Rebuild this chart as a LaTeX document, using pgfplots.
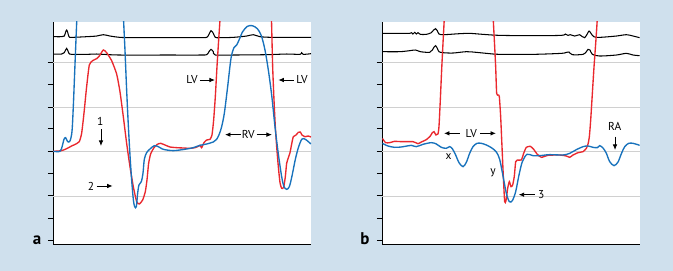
\documentclass[border=0pt]{standalone}
\usepackage{pgfplots}
\pgfplotsset{compat=1.18}
\usepackage{fontspec}
\setmainfont{PT Sans}
\usetikzlibrary{arrows.meta}
\definecolor{bgblue}{RGB}{207,224,237}
\definecolor{cred}{RGB}{234,40,46}
\definecolor{cblue}{RGB}{24,114,188}
\definecolor{gridgray}{RGB}{208,208,208}
\pgfplotsset{
 panel/.style={
  scale only axis, height=222.6bp,
  axis x line*=bottom, axis y line*=left,
  axis line style={-, line width=1bp, black},
  ymin=-733, ymax=-65,
  ytick={-721,-655,-588,-521,-454,-387,-321,-254,-187}, yticklabels={},
  extra y ticks={-588,-454,-321,-187}, extra y tick labels={},
  extra y tick style={grid=major},
  major grid style={gridgray, line width=0.9bp},
  tick align=outside, major tick length=5.5bp,
  tick style={black, line width=1bp},
  xtick=\empty,
  axis background/.style={fill=white},
 },
 ekg/.style={black, line width=1.05bp, smooth, tension=0.5, no markers},
 rc/.style={cred, line width=1.35bp, smooth, tension=0.35, no markers},
 bc/.style={cblue, line width=1.35bp, smooth, tension=0.5, no markers},
}
\tikzset{ann/.style={font=\fontsize{11.5}{13}\selectfont, inner sep=0pt},
 arr/.style={-{Latex[length=5.5bp,width=4.6bp]}, line width=0.9bp, black}}
\begin{document}
\begin{tikzpicture}
\fill[bgblue] (0,0) rectangle (673bp,271bp);
% ---------------- panel a
\begin{axis}[panel, at={(53.3bp,26.7bp)}, anchor=south west, width=257.7bp, xmin=160, xmax=933]
\addplot[ekg] coordinates {(160,-110)(185,-110)(193,-108)(197,-96)(200,-90)(203,-96)(207,-110)(215,-112)(260,-110)(290,-108)(310,-104)(330,-108)(360,-112)(400,-113)(500,-113)(600,-113)(620,-112)(627,-103)(633,-92)(640,-100)(646,-112)(660,-113)(700,-112)(740,-108)(760,-104)(780,-110)(820,-112)(933,-112)};
\addplot[ekg] coordinates {(160,-162)(185,-162)(193,-158)(197,-150)(200,-145)(203,-150)(207,-160)(215,-163)(260,-163)(290,-162)(310,-163)(360,-165)(500,-165)(600,-165)(620,-164)(627,-155)(633,-148)(640,-155)(646,-165)(700,-165)(800,-164)(860,-162)(900,-163)(905,-158)(910,-163)(933,-161)};
\addplot[rc] coordinates {(160,-454)(185,-452)(200,-446)(215,-438)(230,-431)(238,-425)(245,-400)(252,-340)(260,-260)(268,-195)(278,-182)(290,-176)(298,-168)(310,-150)(320,-158)(335,-182)(350,-222)(360,-275)(370,-350)(380,-430)(390,-500)(400,-560)(410,-605)(418,-612)(428,-600)(436,-575)(441,-540)(446,-490)(452,-462)(462,-443)(472,-433)(482,-430)(495,-435)(510,-441)(530,-443)(550,-444)(570,-445)(585,-443)(595,-439)(600,-436)(605,-443)(612,-428)(620,-420)(630,-418)(636,-405)(641,-360)(646,-290)(651,-200)(656,-120)(661,-40)(665,100)(810,100)(814,-40)(818,-200)(822,-300)(826,-380)(830,-440)(835,-500)(840,-548)(845,-565)(851,-562)(856,-530)(860,-490)(865,-473)(870,-458)(875,-432)(880,-410)(888,-405)(895,-397)(901,-396)(906,-405)(915,-410)(925,-408)(933,-411)};
\addplot[bc] coordinates {(160,-454)(180,-454)(187,-438)(192,-418)(197,-413)(203,-425)(210,-423)(216,-395)(220,-320)(224,-220)(228,-120)(232,-20)(236,100)(366,100)(370,-40)(375,-150)(380,-270)(385,-375)(390,-465)(395,-540)(400,-598)(404,-620)(409,-620)(413,-580)(417,-555)(424,-545)(429,-520)(433,-478)(440,-458)(450,-447)(463,-437)(475,-440)(487,-447)(500,-450)(520,-452)(540,-450)(560,-447)(580,-443)(600,-436)(620,-432)(640,-426)(650,-418)(658,-402)(665,-380)(673,-340)(683,-260)(693,-175)(702,-143)(710,-135)(718,-118)(728,-95)(742,-79)(757,-77)(772,-86)(784,-107)(795,-150)(805,-210)(815,-285)(825,-380)(835,-462)(845,-530)(852,-560)(860,-568)(868,-560)(876,-528)(886,-478)(896,-440)(906,-417)(916,-418)(925,-425)(933,-432)};
\node[ann] at (axis cs:576,-240) {LV};
\draw[arr] (axis cs:600,-240) -- (axis cs:645,-240);
\node[ann] at (axis cs:906,-240) {LV};
\draw[arr] (axis cs:881,-240) -- (axis cs:835,-240);
\node[ann] at (axis cs:745,-404) {RV};
\draw[arr] (axis cs:722,-404) -- (axis cs:675,-404);
\draw[arr] (axis cs:770,-404) -- (axis cs:816,-404);
\node[ann] at (axis cs:301,-363) {1};
\draw[arr] (axis cs:303,-388) -- (axis cs:303,-438);
\node[ann] at (axis cs:273,-558) {2};
\draw[arr] (axis cs:290,-558) -- (axis cs:338,-558);
\end{axis}
% ---------------- panel b
\begin{axis}[panel, at={(382.3bp,26.7bp)}, anchor=south west, width=257.4bp, xmin=148, xmax=920]
\addplot[ekg] coordinates {(148,-100)(200,-100)(230,-100)(236,-98)(240,-102)(245,-97)(250,-102)(255,-98)(262,-103)(280,-103)(295,-98)(302,-90)(308,-86)(313,-92)(318,-102)(330,-104)(350,-103)(380,-101)(410,-100)(450,-103)(500,-106)(600,-107)(685,-106)(697,-102)(705,-106)(712,-104)(725,-108)(740,-104)(748,-110)(755,-113)(762,-103)(768,-93)(774,-100)(782,-110)(800,-112)(850,-108)(880,-104)(900,-108)(920,-113)};
\addplot[ekg] coordinates {(148,-155)(200,-155)(230,-152)(248,-150)(262,-155)(290,-157)(298,-150)(304,-140)(308,-137)(313,-145)(318,-155)(330,-158)(360,-159)(400,-155)(430,-157)(460,-160)(500,-163)(600,-163)(685,-160)(700,-157)(708,-156)(718,-164)(750,-163)(760,-155)(765,-148)(771,-150)(778,-163)(800,-168)(850,-165)(880,-160)(900,-165)(920,-167)};
\addplot[rc] coordinates {(148,-415)(158,-428)(170,-428)(185,-424)(205,-425)(240,-425)(255,-431)(265,-426)(280,-419)(292,-408)(298,-398)(303,-395)(309,-405)(315,-402)(318,-380)(322,-300)(326,-210)(330,-130)(334,-50)(338,100)(476,100)(480,-40)(484,-120)(488,-200)(491,-280)(496,-285)(499,-290)(503,-350)(507,-440)(511,-530)(515,-605)(519,-602)(524,-565)(529,-545)(534,-560)(539,-555)(544,-528)(548,-485)(553,-480)(565,-480)(572,-460)(580,-442)(592,-439)(602,-448)(612,-462)(625,-472)(645,-466)(680,-465)(700,-468)(710,-472)(720,-465)(735,-458)(750,-455)(760,-445)(765,-432)(769,-410)(773,-360)(778,-280)(783,-200)(788,-130)(793,-50)(797,100)};
\addplot[bc] coordinates {(148,-430)(165,-438)(185,-442)(205,-441)(222,-438)(235,-436)(250,-440)(270,-433)(295,-428)(310,-432)(325,-442)(340,-445)(350,-440)(358,-446)(368,-465)(378,-488)(390,-500)(400,-487)(410,-460)(420,-440)(432,-430)(445,-430)(460,-435)(475,-443)(490,-456)(500,-478)(510,-528)(520,-580)(529,-605)(538,-602)(548,-575)(558,-525)(568,-485)(582,-463)(600,-467)(620,-467)(650,-464)(690,-465)(710,-460)(730,-449)(750,-440)(765,-438)(780,-442)(793,-443)(800,-437)(810,-444)(820,-460)(830,-485)(843,-497)(855,-486)(865,-461)(875,-440)(887,-430)(900,-430)(920,-436)};
\node[ann] at (axis cs:415,-400) {LV};
\draw[arr] (axis cs:380,-400) -- (axis cs:333,-400);
\draw[arr] (axis cs:442,-400) -- (axis cs:489,-400);
\node[ann] at (axis cs:347,-470) {x};
\node[ann] at (axis cs:480,-519) {y};
\node[ann] at (axis cs:625,-584) {3};
\draw[arr] (axis cs:605,-584) -- (axis cs:557,-584);
\node[ann] at (axis cs:845,-380) {RA};
\draw[arr] (axis cs:846,-410) -- (axis cs:846,-450);
\end{axis}
\node[font=\fontsize{17}{18}\bfseries\selectfont, inner sep=0pt] at (37bp,31bp) {a};
\node[font=\fontsize{17}{18}\bfseries\selectfont, inner sep=0pt] at (365bp,32bp) {b};
\end{tikzpicture}
\end{document}
